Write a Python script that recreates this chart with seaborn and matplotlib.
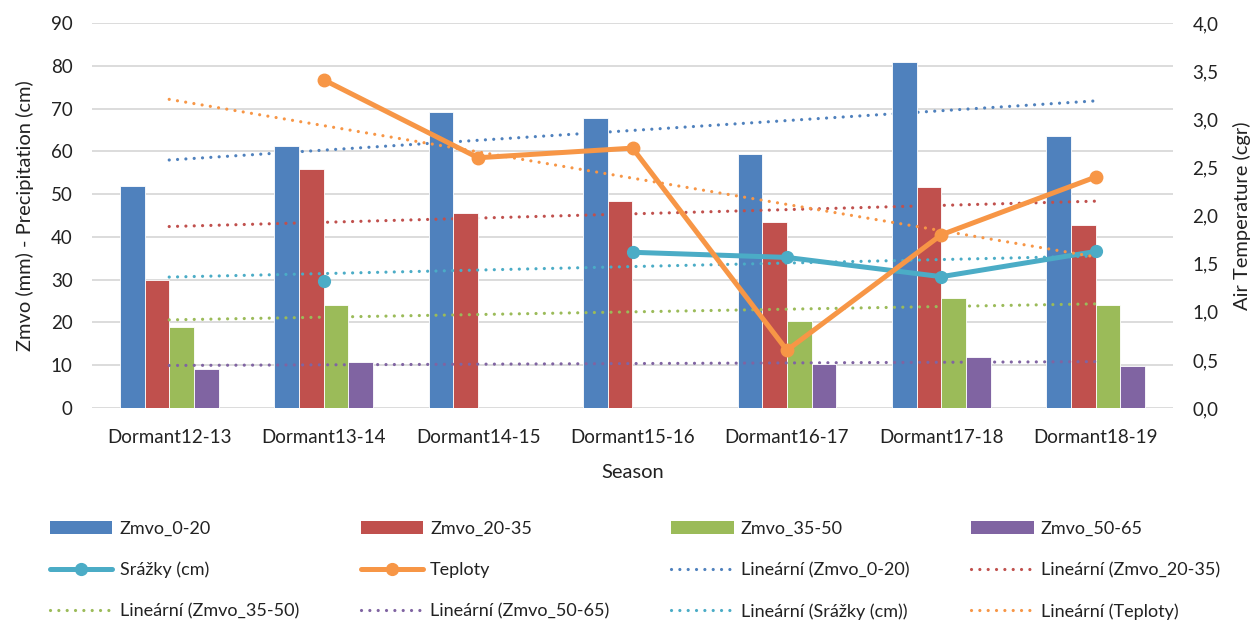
import numpy as np
import pandas as pd
import matplotlib
matplotlib.use("Agg")
import matplotlib.pyplot as plt
import seaborn as sns
from matplotlib.lines import Line2D
from matplotlib.patches import Patch
from matplotlib.ticker import FuncFormatter, MultipleLocator

# ---- data -------------------------------------------------------------
seasons = ["Dormant12-13", "Dormant13-14", "Dormant14-15", "Dormant15-16",
           "Dormant16-17", "Dormant17-18", "Dormant18-19"]
nan = np.nan
zmvo_0_20 = [52.0, 61.3, 69.1, 67.9, 59.3, 80.9, 63.7]
zmvo_20_35 = [30.0, 55.8, 45.6, 48.5, 43.4, 51.7, 42.7]
zmvo_35_50 = [18.9, 24.0, nan, nan, 20.3, 25.7, 24.1]
zmvo_50_65 = [9.2, 10.8, nan, nan, 10.4, 11.9, 9.8]
srazky_cm = [nan, 29.7, nan, 36.4, 35.2, 30.7, 36.6]
teploty = [nan, 3.41, 2.60, 2.70, 0.60, 1.80, 2.40]

layers = ["Zmvo_0-20", "Zmvo_20-35", "Zmvo_35-50", "Zmvo_50-65"]
layer_values = [zmvo_0_20, zmvo_20_35, zmvo_35_50, zmvo_50_65]
layer_colors = ["#4F81BD", "#C0504D", "#9BBB59", "#8064A2"]
rain_color = "#4BACC6"
temp_color = "#F79646"

# ---- style ------------------------------------------------------------
sns.set_theme(style="white")
plt.rcParams["font.family"] = ["Lato", "DejaVu Sans"]
text_color = "#222222"
plt.rcParams["text.color"] = text_color
plt.rcParams["axes.labelcolor"] = text_color
plt.rcParams["xtick.color"] = text_color
plt.rcParams["ytick.color"] = text_color

W, H = 1254, 620
fig = plt.figure(figsize=(W / 100, H / 100), dpi=100)
ax = fig.add_axes([92 / W, 1 - 408 / H, (1173 - 92) / W, (408 - 23) / H])

bar_df = pd.DataFrame({"Season": seasons, **dict(zip(layers, layer_values))})
bar_df = bar_df.melt(id_vars="Season", var_name="Layer", value_name="Value")

sns.barplot(data=bar_df, x="Season", y="Value", hue="Layer",
            order=seasons, hue_order=layers, palette=layer_colors,
            width=0.64, saturation=1, errorbar=None, legend=False,
            edgecolor="white", linewidth=0.6, ax=ax)

x = np.arange(len(seasons))
dot_style = (0, (0.01, 2.6))


def trend(axis, values, color, z):
    y = np.asarray(values, dtype=float)
    ok = ~np.isnan(y)
    coef = np.polyfit(x[ok], y[ok], 1)
    xs = np.array([x[0], x[-1]])
    axis.plot(xs, np.polyval(coef, xs), color=color, lw=2.3,
              linestyle=dot_style, dash_capstyle="round", zorder=z)


# each layer's trend sits just beneath its own bars
for i, (vals, col) in enumerate(zip(layer_values, layer_colors)):
    for patch in ax.containers[i]:
        patch.set_zorder(2 * i + 2)
    trend(ax, vals, col, 2 * i + 1)

trend(ax, srazky_cm, rain_color, 11)
ax.plot(x, srazky_cm, color=rain_color, lw=3.6, marker="o", ms=8.5,
        solid_capstyle="round", zorder=12)

ax.set_xlim(-0.5, len(seasons) - 0.5)
ax.set_ylim(0, 90)
ax.yaxis.set_major_locator(MultipleLocator(10))
ax.yaxis.grid(True, color="#D9D9D9", lw=1.3)
ax.set_axisbelow(True)
for s in ax.spines.values():
    s.set_visible(False)
ax.tick_params(axis="both", length=0, labelsize=13.5)
ax.tick_params(axis="y", pad=14)
ax.tick_params(axis="x", pad=15)
ax.set_xlabel("Season", fontsize=14.5, labelpad=13)
ax.set_ylabel("Zmvo (mm) - Precipitation (cm)", fontsize=14.5, labelpad=12)

# ---- temperature on the secondary axis --------------------------------
ax2 = ax.twinx()
ax2.set_ylim(0, 4)
ax2.yaxis.set_major_locator(MultipleLocator(0.5))
ax2.yaxis.set_major_formatter(FuncFormatter(lambda v, _: f"{v:.1f}".replace(".", ",")))
trend(ax2, teploty, temp_color, 2)
ax2.plot(x, teploty, color=temp_color, lw=3.6, marker="o", ms=9,
         solid_capstyle="round", zorder=3)
for s in ax2.spines.values():
    s.set_visible(False)
ax2.tick_params(axis="y", length=0, labelsize=13.5, pad=14)
ax2.set_ylabel("Air Temperature (cgr)", fontsize=14.5, labelpad=10)

# ---- legend -----------------------------------------------------------
handles = [Patch(facecolor=c, edgecolor="none", label=l)
           for l, c in zip(layers, layer_colors)]
handles += [
    Line2D([], [], color=rain_color, lw=3.6, marker="o", ms=8.5, label="Srážky (cm)"),
    Line2D([], [], color=temp_color, lw=3.6, marker="o", ms=8.5, label="Teploty"),
]
for name, col in zip(layers, layer_colors):
    handles.append(Line2D([], [], color=col, lw=2.3, linestyle=dot_style,
                          dash_capstyle="round", label=f"Lineární ({name})"))
handles.append(Line2D([], [], color=rain_color, lw=2.3, linestyle=dot_style,
                      dash_capstyle="round", label="Lineární (Srážky (cm))"))
handles.append(Line2D([], [], color=temp_color, lw=2.3, linestyle=dot_style,
                      dash_capstyle="round", label="Lineární (Teploty)"))

ncol, nrow = 4, 3
ordered = [handles[r * ncol + c] for c in range(ncol) for r in range(nrow)]
fig.legend(handles=ordered, loc="upper left", ncol=ncol,
           bbox_to_anchor=(50 / W, 0, 1170 / W, 1 - 521 / H), mode="expand",
           frameon=False, fontsize=13, handlelength=3.45, handletextpad=0.4,
           labelspacing=1.38, borderaxespad=0, borderpad=0)

fig.savefig("out.png", dpi=100)
